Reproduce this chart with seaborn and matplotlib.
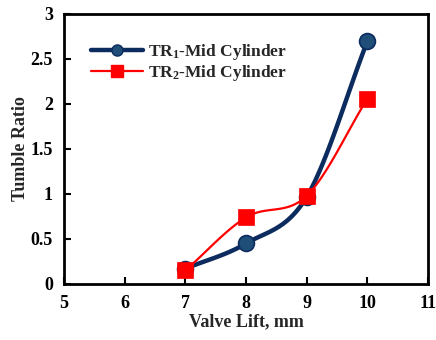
import numpy as np
import pandas as pd
import matplotlib
matplotlib.use("Agg")
import matplotlib.pyplot as plt
import seaborn as sns
from matplotlib.lines import Line2D

valve_lift = [7, 8, 9, 10]
tr1_mid = [0.17, 0.45, 0.97, 2.70]
tr2_mid = [0.15, 0.74, 0.98, 2.06]
series_names = ["TR$_1$-Mid Cylinder", "TR$_2$-Mid Cylinder"]

sns.set_theme(style="white")
plt.rcParams['font.family'] = ['Liberation Serif', 'DejaVu Serif']
plt.rcParams['font.weight'] = 'bold'
plt.rcParams['mathtext.fontset'] = 'custom'
plt.rcParams['mathtext.bf'] = 'Liberation Serif:bold'
plt.rcParams['mathtext.rm'] = 'Liberation Serif:bold'
plt.rcParams['mathtext.it'] = 'Liberation Serif:bold'
plt.rcParams['mathtext.default'] = 'bf'


def smooth(x, y, n=40):
    # Catmull-Rom smoothing through the data points (like Excel smoothed lines)
    x = np.asarray(x, float); y = np.asarray(y, float)
    px = np.concatenate([[2 * x[0] - x[1]], x, [2 * x[-1] - x[-2]]])
    py = np.concatenate([[2 * y[0] - y[1]], y, [2 * y[-1] - y[-2]]])
    xs, ys = [], []
    t = np.linspace(0, 1, n)
    for i in range(1, len(px) - 2):
        for arr, out in ((px, xs), (py, ys)):
            p0, p1, p2, p3 = arr[i - 1], arr[i], arr[i + 1], arr[i + 2]
            out.extend(0.5 * ((2 * p1) + (-p0 + p2) * t + (2 * p0 - 5 * p1 + 4 * p2 - p3) * t**2
                              + (-p0 + 3 * p1 - 3 * p2 + p3) * t**3))
    return np.array(xs), np.array(ys)


fig = plt.figure(figsize=(4.36, 3.40), dpi=100)
ax = fig.add_axes([0.147, 0.165, 0.835, 0.794])

navy = "#0C2B5E"
navy_face = "#1F4E79"
red = "#FF0000"

sx1, sy1 = smooth(valve_lift, tr1_mid)
sx2, sy2 = smooth(valve_lift, tr2_mid)
ax.plot(sx1, sy1, color=navy, lw=3.2, zorder=2)
ax.plot(sx2, sy2, color=red, lw=1.6, zorder=3)

df1 = pd.DataFrame({"x": valve_lift, "y": tr1_mid})
df2 = pd.DataFrame({"x": valve_lift, "y": tr2_mid})
sns.scatterplot(data=df1, x="x", y="y", ax=ax, marker="o", s=130, color=navy_face,
                edgecolor=navy, linewidth=1.2, zorder=4, legend=False)
sns.scatterplot(data=df2, x="x", y="y", ax=ax, marker="s", s=130, color=red,
                edgecolor=red, linewidth=0.5, zorder=5, legend=False)

ax.set_xlim(5, 11)
ax.set_ylim(0, 3)
ax.set_xticks(range(5, 12))
ax.set_yticks([0, 0.5, 1, 1.5, 2, 2.5, 3])
ax.set_yticklabels(["0", "0.5", "1", "1.5", "2", "2.5", "3"])
ax.tick_params(direction="in", length=5, width=1.5, labelsize=13, pad=8,
               bottom=True, left=True, colors="black")
for lab in ax.get_xticklabels() + ax.get_yticklabels():
    lab.set_fontweight("bold")
for sp in ax.spines.values():
    sp.set_linewidth(2)
    sp.set_color("black")

ax.set_xlabel("Valve Lift, mm", fontsize=13, fontweight="bold", labelpad=1)
ax.set_ylabel("Tumble Ratio", fontsize=13, fontweight="bold", labelpad=1)

handles = [
    Line2D([0], [0], color=navy, lw=3.2, marker="o", markersize=8,
           markerfacecolor=navy_face, markeredgecolor=navy),
    Line2D([0], [0], color=red, lw=1.6, marker="s", markersize=8,
           markerfacecolor=red, markeredgecolor=red),
]
leg = ax.legend(handles, series_names, loc="upper left", bbox_to_anchor=(0.03, 0.955),
                frameon=False, handlelength=3.0, handletextpad=0.3, labelspacing=0.1,
                prop={"family": "Liberation Serif", "weight": "bold", "size": 12.5})

fig.savefig("out.png", dpi=100)
